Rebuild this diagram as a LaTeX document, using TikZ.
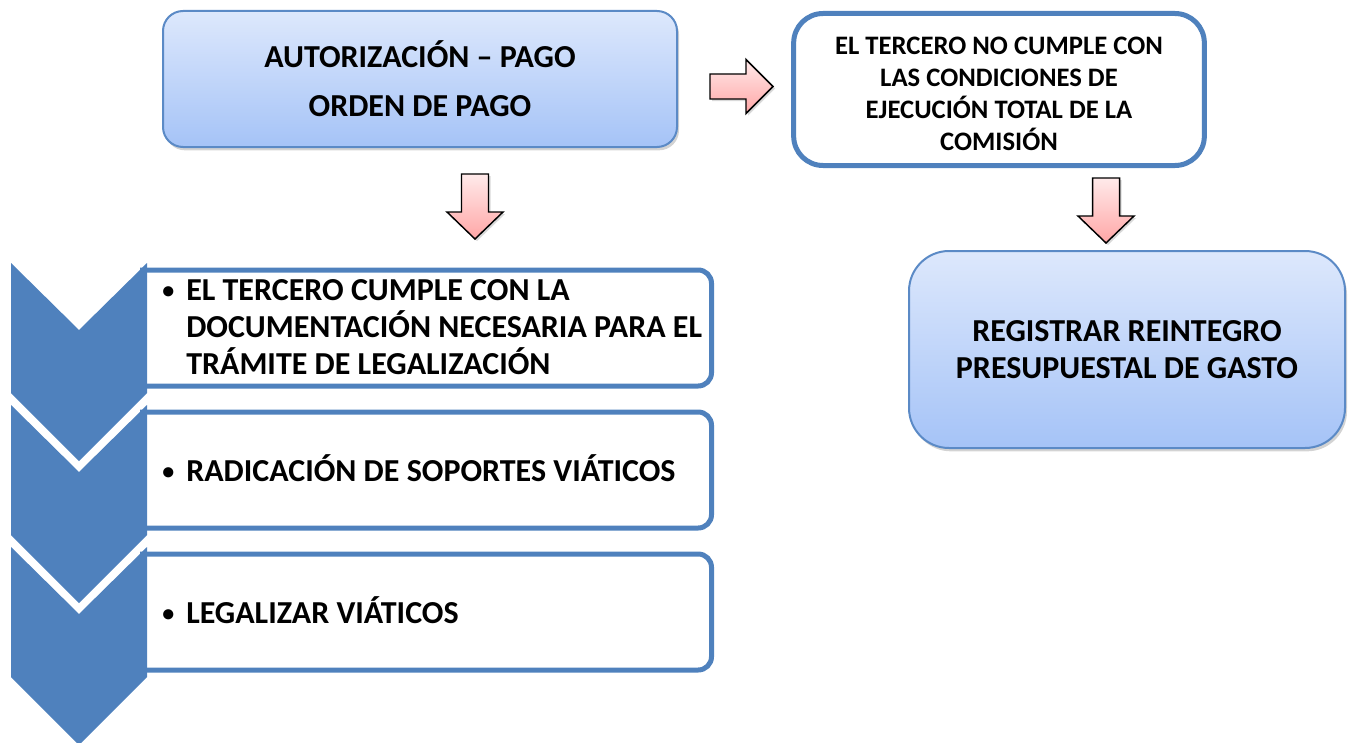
\documentclass[tikz,border=0pt]{standalone}
\usepackage{fontspec}
\setmainfont{Carlito}
\usetikzlibrary{shadows}

\definecolor{stepblue}{HTML}{4F81BD}
\definecolor{boxline}{HTML}{5B8AC6}
\definecolor{boxtop}{HTML}{DDE8FC}
\definecolor{boxbottom}{HTML}{A5C3F7}
\definecolor{arrowtop}{HTML}{FFEAEA}
\definecolor{arrowbottom}{HTML}{FFA6A6}

\begin{document}
\begin{tikzpicture}[x=0.75pt,y=-0.75pt,
  boxshadow/.style={drop shadow={shadow xshift=1.5pt,shadow yshift=-2.5pt,opacity=0.35}},
  bluebox/.style={draw=boxline,line width=1.5pt,top color=boxtop,bottom color=boxbottom,
    align=center,inner sep=0pt,boxshadow},
  framebox/.style={draw=stepblue,line width=3.75pt,fill=white,align=center,inner sep=0pt},
  stepline/.style={draw=stepblue,line width=3.75pt,rounded corners=10pt},
  steptext/.style={anchor=west,inner sep=0pt,
    font=\bfseries\fontsize{24}{25.5}\selectfont},
  blockarrow/.style={draw=black,line width=1.1pt,top color=arrowtop,bottom color=arrowbottom,
    drop shadow={shadow xshift=1.5pt,shadow yshift=-1.5pt,opacity=0.3}}]
\useasboundingbox (0,0) rectangle (1348,742);
\def\arrowdown#1#2{(#1-13.5,#2) -- (#1+13.5,#2) -- (#1+13.5,#2+38) -- (#1+28,#2+38)
  -- (#1,#2+65) -- (#1-28,#2+38) -- (#1-13.5,#2+38) -- cycle}
\def\arrowright#1#2{(#1,#2-12.5) -- (#1+36,#2-12.5) -- (#1+36,#2-27) -- (#1+63,#2)
  -- (#1+36,#2+27) -- (#1+36,#2+12.5) -- (#1,#2+12.5) -- cycle}
\def\bala{\makebox[18pt][l]{\raisebox{1.5pt}{\fontsize{18}{18}\selectfont •}}}
%
% Cajas :
\node[bluebox,rounded corners=15pt,minimum width=385.5pt,minimum height=102pt,
  font=\bfseries\fontsize{24}{36.75}\selectfont] (pago) at (420,79)
  {AUTORIZACIÓN – PAGO\\ORDEN DE PAGO};
\node[framebox,rounded corners=22pt,minimum width=308pt,minimum height=114pt,
  font=\bfseries\fontsize{20}{24}\selectfont] (nocumple) at (999,89.5)
  {\\[-4pt]EL TERCERO NO CUMPLE CON\\LAS CONDICIONES DE\\EJECUCIÓN TOTAL DE LA\\COMISIÓN};
\node[bluebox,rounded corners=30pt,minimum width=327pt,minimum height=147.75pt,
  font=\bfseries\fontsize{24}{27.75}\selectfont] (reintegro) at (1127,349.5)
  {REGISTRAR REINTEGRO\\PRESUPUESTAL DE GASTO};
%
% Flechas :
\path[blockarrow] \arrowright{710}{86.5};
\path[blockarrow] \arrowdown{475}{174};
\path[blockarrow] \arrowdown{1106}{178};
%
% Pasos :
\foreach \k/\txt in {0/{EL TERCERO CUMPLE CON LA\\DOCUMENTACIÓN NECESARIA PARA EL\\TRÁMITE DE LEGALIZACIÓN},
                     1/{RADICACIÓN DE SOPORTES VIÁTICOS},
                     2/{LEGALIZAR VIÁTICOS}}{
  \pgfmathsetmacro\ct{263+142*\k}
  \draw[stepline] (140,\ct+7) -- (711.5,\ct+7) -- (711.5,\ct+123) -- (140,\ct+123);
  \fill[stepblue] (11,\ct) -- (79,\ct+67) -- (147,\ct) -- (147,\ct+130)
    -- (79,\ct+198) -- (11,\ct+130) -- cycle;
  \node[steptext] (paso\k) at (162,\ct+68)
    {\bala\begin{tabular}[t]{@{}l@{}}\txt\end{tabular}};
}
\end{tikzpicture}
\end{document}
